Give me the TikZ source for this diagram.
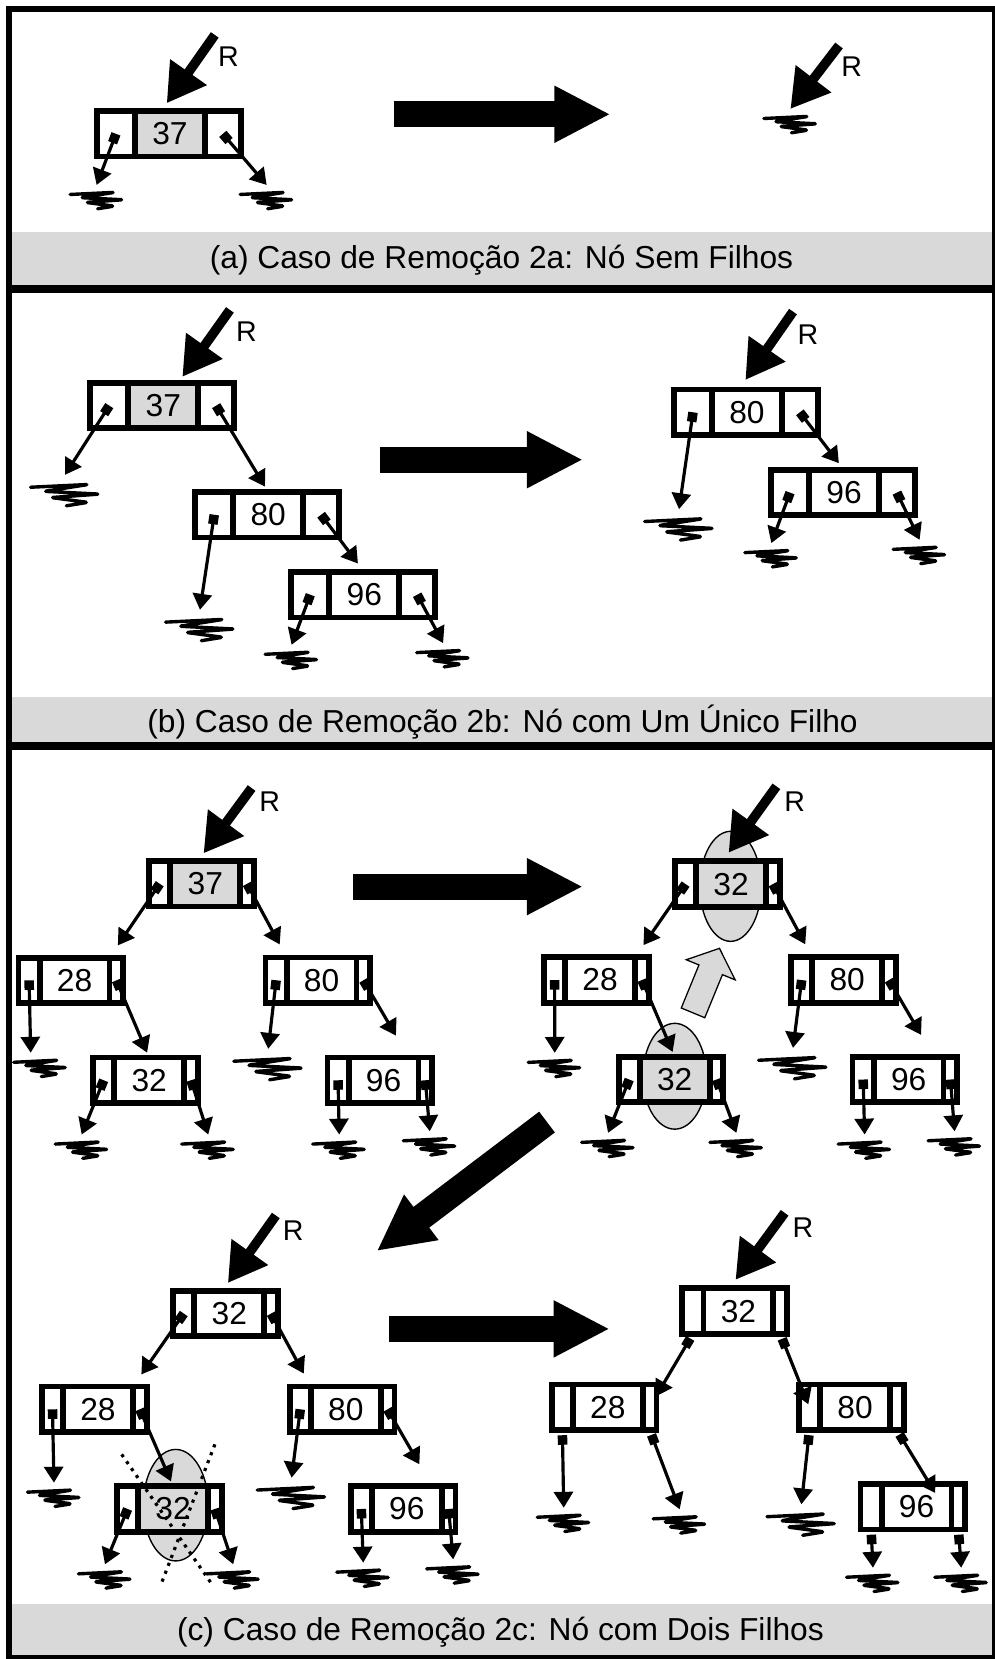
\documentclass[tikz,border=0pt]{standalone}
\usepackage{fontspec}
\setmainfont{Liberation Sans}
\usetikzlibrary{positioning,arrows.meta}
\definecolor{cellgrey}{RGB}{217,217,217}
\newcommand{\keyfont}{\fontsize{30pt}{34pt}\selectfont}
\newcommand{\capfont}{\fontsize{30pt}{34pt}\selectfont}
\newcommand{\rfont}{\fontsize{27pt}{30pt}\selectfont}
\tikzset{
  cellbox/.style={draw, line width=5.5pt, minimum height=43pt, inner sep=0pt, outer sep=0pt, fill=white},
  keyw/.style={cellbox, minimum width=66pt, font=\keyfont},
  leftw/.style={cellbox, minimum width=36pt},
  rightw/.style={cellbox, minimum width=34pt},
  leftn/.style={cellbox, minimum width=20pt},
  rightn/.style={cellbox, minimum width=13pt},
  ptr/.style={line width=3pt, arrows={Square[length=9pt,width=9pt]-Triangle[length=15pt,width=18pt]}},
  rarrow/.style={line width=9pt, arrows={-Triangle[length=36pt,width=40pt]}},
  bigarrow/.style={line width=24.6pt, arrows={-Triangle[length=53pt,width=50pt]}},
  rlab/.style={font=\rfont, inner sep=0pt},
  captext/.style={font=\capfont, anchor=base, inner sep=0pt},
  picked/.style={fill=cellgrey, draw, line width=1.3pt},
  nul/.pic={\draw[line width=3.2pt, line cap=round, line join=round, rounded corners=1.5pt]
    (-25,9) -- (17,7) -- (-15,12) -- (25,14) -- (-10,16.5) -- (16.5,20) -- (1,22.5);}
}
\newcommand{\treew}[4][white]{%
  \node[keyw, fill=#1] (#2) at (#3) {#4};
  \node[leftw, left=0pt of #2] (#2l) {};
  \node[rightw, right=0pt of #2] (#2r) {};}
\newcommand{\treen}[4][white]{%
  \node[keyw, fill=#1] (#2) at (#3) {#4};
  \node[leftn, left=0pt of #2] (#2l) {};
  \node[rightn, right=0pt of #2] (#2r) {};}
\begin{document}
\begin{tikzpicture}[x=1pt, y=-1pt]
    \useasboundingbox (0,0) rectangle (940,1568);
    \fill[cellgrey] (8.5,219) rectangle (940,269);
    \fill[cellgrey] (8.5,658.5) rectangle (940,701);
    \fill[cellgrey] (8.5,1516) rectangle (940,1567);
    \draw[line width=8pt] (8.5,273) -- (940,273);
    \draw[line width=8pt] (8.5,705) -- (940,705);
    \draw[line width=6pt] (8.5,8.5) rectangle (940.5,1567);
    \node[captext] (capa) at (474,253.5) {(a) Caso de Remoção 2a: Nó Sem Filhos};
    \node[captext] (capb) at (475,692) {(b) Caso de Remoção 2b: Nó com Um Único Filho};
    \node[captext] (capc) at (473,1550.5) {(c) Caso de Remoção 2c: Nó com Dois Filhos};

    \treew[cellgrey]{a37}{160.6,126.5}{37}
    \coordinate (art) at (203,33);
    \node[rlab] (arl) at (216,54) {R};
    \draw[rarrow, shorten >=9pt] (art) -- (a37.111);
    \coordinate (a37lg) at (91.3,174.8);
    \coordinate (a37rg) at (252,174.8);
    \draw[ptr] (a37l.center) -- (a37lg);
    \draw[ptr] (a37r.center) -- (a37rg);
    \pic at (a37lg) {nul};
    \pic at (a37rg) {nul};
    \coordinate (sa) at (372,108);
    \coordinate (ea) at (577,108);
    \draw[bigarrow] (sa) -- (ea);
    \coordinate (anrt) at (793,43);
    \node[rlab] (anrl) at (805,63) {R};
    \coordinate (anul) at (747,103);
    \draw[rarrow] (anrt) -- (anul);
    \pic at (anul) {nul};

    \treew[cellgrey]{b37}{154.3,383.4}{37}
    \treew{b80}{253.5,486.5}{80}
    \treew{b96}{344.3,562.1}{96}
    \coordinate (brt) at (217.3,292.9);
    \node[rlab] (brl) at (233,313.3) {R};
    \draw[rarrow, shorten >=7pt] (brt) -- (b37.57);
    \coordinate (b37lg) at (61.4,448.8);
    \coordinate (b80lg) at (189,576.3);
    \coordinate (b96lg) at (275.6,609.4);
    \coordinate (b96rg) at (418.8,607.8);
    \draw[ptr] (b37l.center) -- (b37lg);
    \draw[ptr, shorten >=6pt] (b37r.center) -- (b80.north);
    \draw[ptr] (b80l.center) -- (b80lg);
    \draw[ptr, shorten >=10pt] (b80r.center) -- (b96.north);
    \draw[ptr] (b96l.center) -- (b96lg);
    \draw[ptr] (b96r.center) -- (b96rg);
    \pic[scale=1.3] at (b37lg) {nul};
    \pic[scale=1.3] at (b80lg) {nul};
    \pic at (b96lg) {nul};
    \pic at (b96rg) {nul};
    \coordinate (sb) at (359,434.5);
    \coordinate (eb) at (551,434.5);
    \draw[bigarrow] (sb) -- (eb);

    \treew{g80}{706,389.7}{80}
    \treew{g96}{797.7,465.6}{96}
    \coordinate (grt) at (749.5,294.5);
    \node[rlab] (grl) at (763.6,316.5) {R};
    \draw[rarrow, shorten >=11pt] (grt) -- (g80.110);
    \coordinate (g80lg) at (641.8,481.2);
    \coordinate (g96lg) at (729,513.3);
    \coordinate (g96rg) at (869.2,510.2);
    \draw[ptr] (g80l.center) -- (g80lg);
    \draw[ptr, shorten >=8pt] (g80r.center) -- (g96.north);
    \draw[ptr] (g96l.center) -- (g96lg);
    \draw[ptr] (g96r.center) -- (g96rg);
    \pic[scale=1.3] at (g80lg) {nul};
    \pic at (g96lg) {nul};
    \pic at (g96rg) {nul};

    \treen[cellgrey]{c37}{194,835.3}{37}
    \treen{c28}{70.5,926.6}{28}
    \treen{c80}{304,926.5}{80}
    \treen{c32}{141,1021}{32}
    \treen{c96}{362.5,1021}{96}
    \coordinate (crt) at (237.8,744.8);
    \node[rlab] (crl) at (255,757.4) {R};
    \draw[rarrow, shorten >=9pt] (crt) -- (c37.108);
    \coordinate (c28lg) at (29,995);
    \coordinate (c80lg) at (253.5,991.3);
    \coordinate (c32lg) at (77.2,1072.3);
    \coordinate (c32rg) at (196.8,1072.3);
    \coordinate (c96lg) at (320.6,1072.3);
    \coordinate (c96rg) at (406.2,1069.2);
    \draw[ptr, shorten >=14pt] (c37l.center) -- (c28.north east);
    \draw[ptr, shorten >=14pt] (c37r.center) -- (c80.north west);
    \draw[ptr] (c28l.center) -- (c28lg);
    \draw[ptr, shorten >=5pt] (c28r.center) -- (c32.north);
    \draw[ptr] (c80l.center) -- (c80lg);
    \draw[ptr, shorten >=24pt] (c80r.center) -- (c96.42);
    \draw[ptr] (c32l.center) -- (c32lg);
    \draw[ptr] (c32r.center) -- (c32rg);
    \draw[ptr] (c96l.center) -- (c96lg);
    \draw[ptr] (c96r.center) -- (c96rg);
    \pic[xshift=9pt] at (c28lg) {nul};
    \pic[scale=1.3] at (c80lg) {nul};
    \pic at (c32lg) {nul};
    \pic at (c32rg) {nul};
    \pic at (c96lg) {nul};
    \pic at (c96rg) {nul};
    \coordinate (sc) at (333.8,838);
    \coordinate (ec) at (551,838);
    \draw[bigarrow] (sc) -- (ec);

    \draw[picked] (690.5,837.7) ellipse [x radius=29pt, y radius=52pt];
    \draw[picked] (637.7,1017.2) ellipse [x radius=30pt, y radius=50pt];
    \treen[cellgrey]{d32}{691,835.6}{32}
    \treen{d28}{567.2,926.3}{28}
    \treen{d80}{800.7,926.3}{80}
    \treen[cellgrey]{d32b}{637.7,1020.3}{32}
    \treen{d96}{858.8,1020.3}{96}
    \coordinate (drt) at (733.8,743.2);
    \node[rlab] (drl) at (751,757.4) {R};
    \draw[rarrow, shorten >=10pt] (drt) -- (d32.111);
    \coordinate (d28lg) at (524.3,995.1);
    \coordinate (d80lg) at (749.5,990.4);
    \coordinate (d32blg) at (574.7,1070.7);
    \coordinate (d32brg) at (696,1070.7);
    \coordinate (d96lg) at (817.2,1072.3);
    \coordinate (d96rg) at (902.2,1069.2);
    \draw[ptr, shorten >=14pt] (d32l.center) -- (d28.north east);
    \draw[ptr, shorten >=14pt] (d32r.center) -- (d80.north west);
    \draw[ptr] (d28l.center) -- (d28lg);
    \draw[ptr, shorten >=5pt] (d28r.center) -- (d32b.north);
    \draw[ptr] (d80l.center) -- (d80lg);
    \draw[ptr, shorten >=24pt] (d80r.center) -- (d96.42);
    \draw[ptr] (d32bl.center) -- (d32blg);
    \draw[ptr] (d32br.center) -- (d32brg);
    \draw[ptr] (d96l.center) -- (d96lg);
    \draw[ptr] (d96r.center) -- (d96rg);
    \pic at (d28lg) {nul};
    \pic[scale=1.3] at (d80lg) {nul};
    \pic at (d32blg) {nul};
    \pic at (d32brg) {nul};
    \pic at (d96lg) {nul};
    \pic at (d96rg) {nul};
    \draw[fill=cellgrey, line width=1.2pt, line join=miter] (643.9,952.7) -- (660.6,912) -- (648.6,907.1) -- (680,896.3) -- (694.8,926.1) -- (682.8,921.2) -- (666.1,961.9) -- cycle;
    \coordinate (sd) at (517,1060.5);
    \coordinate (ed) at (356,1182.5);
    \draw[bigarrow] (sd) -- (ed);

    \draw[picked] (166.1,1422.6) ellipse [x radius=30.7pt, y radius=52.7pt];
    \treen{e32}{216.7,1241.5}{32}
    \treen{e28}{92.6,1332}{28}
    \treen{e80}{326.8,1332}{80}
    \treen[cellgrey]{e32b}{163.6,1426.2}{32}
    \treen{e96}{384.5,1426.2}{96}
    \coordinate (ert) at (260.7,1148.8);
    \node[rlab] (erl) at (277,1163.6) {R};
    \draw[rarrow, shorten >=9pt] (ert) -- (e32.107);
    \coordinate (e28lg) at (51,1401.3);
    \coordinate (e80lg) at (275.6,1396.6);
    \coordinate (e32blg) at (99.2,1478.5);
    \coordinate (e32brg) at (220.4,1478.5);
    \coordinate (e96lg) at (343.3,1476.9);
    \coordinate (e96rg) at (428.3,1473.8);
    \draw[ptr, shorten >=14pt] (e32l.center) -- (e28.north east);
    \draw[ptr, shorten >=14pt] (e32r.center) -- (e80.north west);
    \draw[ptr] (e28l.center) -- (e28lg);
    \draw[ptr, shorten >=5pt] (e28r.center) -- (e32b.north);
    \draw[ptr] (e80l.center) -- (e80lg);
    \draw[ptr, shorten >=24pt] (e80r.center) -- (e96.42);
    \draw[ptr] (e32bl.center) -- (e32blg);
    \draw[ptr] (e32br.center) -- (e32brg);
    \draw[ptr] (e96l.center) -- (e96lg);
    \draw[ptr] (e96r.center) -- (e96rg);
    \pic at (e28lg) {nul};
    \pic[scale=1.3] at (e80lg) {nul};
    \pic at (e32blg) {nul};
    \pic at (e32brg) {nul};
    \pic at (e96lg) {nul};
    \pic at (e96rg) {nul};
    \draw[line width=3pt, dash pattern=on 3pt off 5pt] (115,1374.6) -- (201.5,1499);
    \draw[line width=3pt, dash pattern=on 3pt off 5pt] (203.1,1365.1) -- (152.8,1495.8);
    \coordinate (se) at (367.8,1256);
    \coordinate (ee) at (576.3,1256);
    \draw[bigarrow] (se) -- (ee);

    \treen{f32}{697.9,1239.2}{32}
    \treen{f28}{574.5,1330}{28}
    \treen{f80}{808.1,1330}{80}
    \treen{f96}{866.3,1424}{96}
    \coordinate (frt) at (741.6,1146.3);
    \node[rlab] (frl) at (759,1160.4) {R};
    \draw[rarrow, shorten >=10pt] (frt) -- (f32.112);
    \coordinate (f28lg) at (532.8,1425);
    \coordinate (f28rg) at (642.4,1426.5);
    \coordinate (f80lg) at (757.4,1421.8);
    \coordinate (f96lg) at (825.1,1481.7);
    \coordinate (f96rg) at (908.5,1481.7);
    \draw[ptr, shorten <=5pt, shorten >=12pt] (f32l.south) -- (f28r.center);
    \draw[ptr, shorten <=5pt, shorten >=3pt] (f32r.south) -- (f80l.center);
    \draw[ptr, shorten <=5pt] (f28l.south) -- (f28lg);
    \draw[ptr, shorten <=5pt] (f28r.south) -- (f28rg);
    \draw[ptr, shorten <=5pt] (f80l.south) -- (f80lg);
    \draw[ptr, shorten <=5pt, shorten >=-10pt] (f80r.south) -- (f96.60);
    \draw[ptr, shorten <=5pt] (f96l.south) -- (f96lg);
    \draw[ptr, shorten <=5pt] (f96r.south) -- (f96rg);
    \pic at (f28lg) {nul};
    \pic at (f28rg) {nul};
    \pic[scale=1.3] at (f80lg) {nul};
    \pic at (f96lg) {nul};
    \pic at (f96rg) {nul};
\end{tikzpicture}
\end{document}
